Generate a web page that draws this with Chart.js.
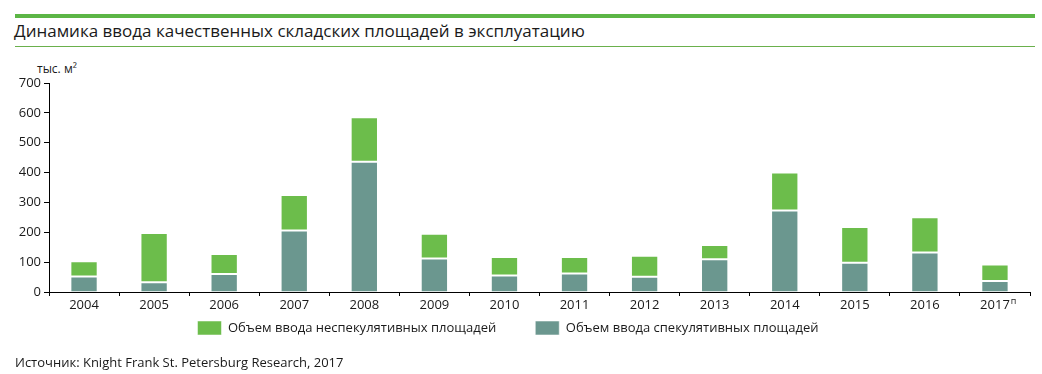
<!DOCTYPE html>
<html>
<head>
<meta charset="utf-8">
<script src="https://cdn.jsdelivr.net/npm/chart.js@4.4.1/dist/chart.umd.min.js"></script>
<style>
  body { margin: 0; background: #fff; }
  #wrap { position: relative; width: 1042px; height: 374px; font-family: "Open Sans", sans-serif; color: #1a1a1a; }
  #myChart { position: absolute; left: 0; top: 0; }
  .topline { position: absolute; left: 15px; top: 14px; width: 1020px; height: 4px; background: #5cb646; }
  .subline { position: absolute; left: 15px; top: 46px; width: 1020px; height: 1px; background: #6ab04c; }
  .title { position: absolute; left: 14px; top: 19px; font-size: 17px; white-space: nowrap; }
  .unit { position: absolute; left: 37px; top: 60px; font-size: 12px; white-space: nowrap; }
  .source { position: absolute; left: 15px; top: 353px; font-size: 13px; white-space: nowrap; }
</style>
</head>
<body>
<div id="wrap">
  <div class="topline"></div>
  <div class="title">Динамика ввода качественных складских площадей в эксплуатацию</div>
  <div class="subline"></div>
  <div class="unit">тыс. м²</div>
  <canvas id="myChart" width="1042" height="374"></canvas>
  <div class="source">Источник: Knight Frank St. Petersburg Research, 2017</div>
</div>
<script>
var years = ['2004', '2005', '2006', '2007', '2008', '2009', '2010', '2011', '2012', '2013', '2014', '2015', '2016', '2017'];
var yearNotes = ['', '', '', '', '', '', '', '', '', '', '', '', '', 'п'];
var speculative = [52, 33, 60, 206, 436, 112, 55, 62, 51, 110, 273, 98, 132, 37];
var nonSpeculative = [51, 165, 67, 119, 149, 83, 62, 55, 70, 47, 127, 120, 118, 55];

// small superscript after a tick label (2017 п)
var tickNotePlugin = {
    id: 'tickNotes',
    afterDraw: function (chart) {
        var ctx = chart.ctx;
        var xs = chart.scales.x;
        ctx.save();
        yearNotes.forEach(function (note, i) {
            if (!note) return;
            ctx.font = '13px "Open Sans"';
            var w = ctx.measureText(years[i]).width;
            var x = xs.getPixelForValue(i) + w / 2 + 1;
            var y = xs.top + 5;
            ctx.font = '9px "Open Sans"';
            ctx.fillStyle = '#1a1a1a';
            ctx.textBaseline = 'top';
            ctx.textAlign = 'left';
            ctx.fillText(note, x, y);
        });
        ctx.restore();
    }
};

// pull the legend up closer to the axis, keeping the wide gap between items
var legendShift = {
    id: 'legendShift',
    afterLayout: function (chart) {
        var lg = chart.legend;
        lg.top = chart.chartArea.bottom - 10;
        lg.bottom = lg.top + 70;
        lg.left -= 7;
        lg.right -= 7;
    }
};

var ctx = document.getElementById('myChart').getContext('2d');
var myChart = new Chart(ctx, {
    type: 'bar',
    data: {
        labels: years,
        datasets: [
            {
                label: 'Объем ввода спекулятивных площадей',
                data: speculative,
                backgroundColor: '#6b978f',
                borderColor: 'rgba(255,255,255,0.55)',
                borderWidth: 1,
                borderSkipped: 'bottom',
                barPercentage: 0.39,
                categoryPercentage: 1
            },
            {
                label: 'Объем ввода неспекулятивных площадей',
                data: nonSpeculative,
                backgroundColor: '#6cbd4b',
                borderColor: 'rgba(255,255,255,0.5)',
                borderWidth: 1,
                borderSkipped: false,
                barPercentage: 0.39,
                categoryPercentage: 1
            }
        ]
    },
    options: {
        responsive: false,
        animation: false,
        layout: {
            padding: { top: 83, right: 12, bottom: 16, left: 0 }
        },
        scales: {
            x: {
                stacked: true,
                offset: true,
                border: { display: true, color: '#000', width: 1 },
                grid: { drawOnChartArea: false, drawTicks: true, tickLength: 4, tickColor: '#000', offset: true },
                ticks: { color: '#1a1a1a', font: { family: 'Open Sans', size: 13 }, padding: 1, autoSkip: false, maxRotation: 0 },
                afterFit: function (scale) { scale.height = 26; }
            },
            y: {
                stacked: true,
                min: 0,
                max: 700,
                border: { display: true, color: '#000', width: 1 },
                grid: { drawOnChartArea: false, drawTicks: true, tickLength: 5, tickColor: '#000' },
                ticks: { stepSize: 100, color: '#1a1a1a', font: { family: 'Open Sans', size: 13 }, padding: 3 },
                afterFit: function (scale) { scale.width = 49; }
            }
        },
        plugins: {
            legend: {
                position: 'bottom',
                reverse: true,
                maxHeight: 40,
                labels: {
                    boxWidth: 24,
                    boxHeight: 14,
                    padding: 39,
                    color: '#1a1a1a',
                    font: { family: 'Open Sans', size: 13 }
                }
            },
            tooltip: { enabled: false }
        }
    },
    plugins: [tickNotePlugin, legendShift]
});
</script>
</body>
</html>
